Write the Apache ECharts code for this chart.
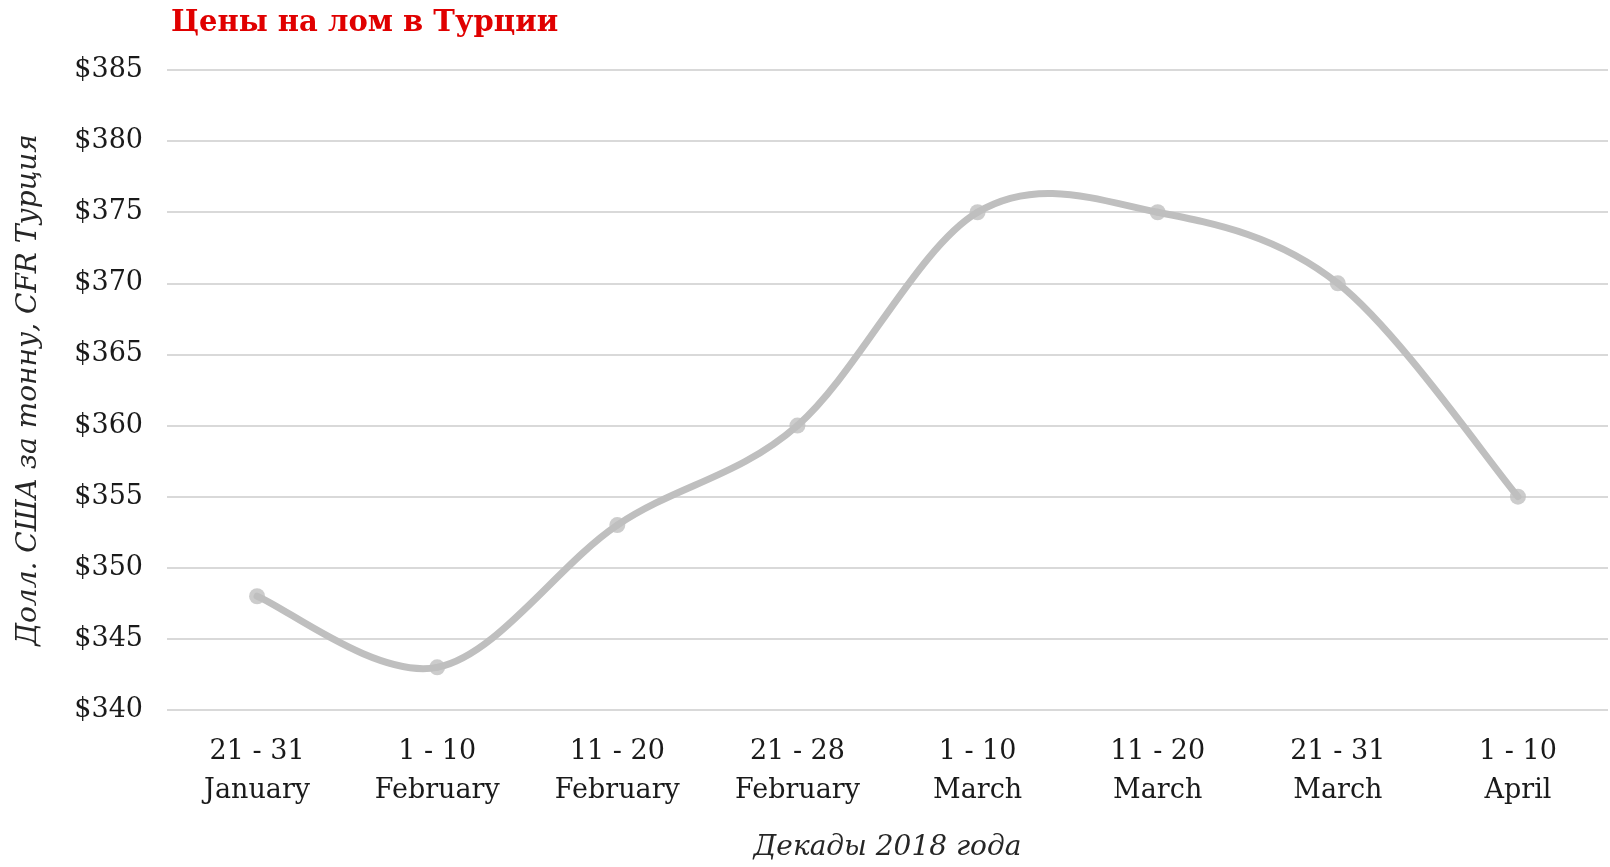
<!DOCTYPE html>
<html>
<head>
<meta charset="utf-8">
<script src="https://cdn.jsdelivr.net/npm/echarts@6/dist/echarts.min.js"></script>
<style>
  html, body { margin: 0; padding: 0; background: #fff; }
  #chart { width: 1610px; height: 867px; }
</style>
</head>
<body>
<div id="chart"></div>
<script>
// декады и цены
const periods = ['21 - 31\nJanuary', '1 - 10\nFebruary', '11 - 20\nFebruary', '21 - 28\nFebruary',
  '1 - 10\nMarch', '11 - 20\nMarch', '21 - 31\nMarch', '1 - 10\nApril'];
const prices = [348, 343, 353, 360, 375, 375, 370, 355];

const serif = "Georgia, 'DejaVu Serif', serif";
const lineColor = '#bfbfbf';

const chart = echarts.init(document.getElementById('chart'));

// сглаживание как в Excel (Catmull-Rom -> Bezier), точки берутся через api.coord
function renderSegment(params, api) {
  const i = api.value(0);
  if (i >= prices.length - 1) return null;
  const pt = k => {
    const kk = Math.max(0, Math.min(prices.length - 1, k));
    return api.coord([kk, prices[kk]]);
  };
  const p0 = pt(i - 1), p1 = pt(i), p2 = pt(i + 1), p3 = pt(i + 2);
  const t = 1 / 6;
  return {
    type: 'bezierCurve',
    shape: {
      x1: p1[0], y1: p1[1],
      x2: p2[0], y2: p2[1],
      cpx1: p1[0] + (p2[0] - p0[0]) * t, cpy1: p1[1] + (p2[1] - p0[1]) * t,
      cpx2: p2[0] - (p3[0] - p1[0]) * t, cpy2: p2[1] - (p3[1] - p1[1]) * t
    },
    style: { stroke: lineColor, lineWidth: 7, fill: null, lineCap: 'round' }
  };
}

const option = {
  animation: false,
  title: {
    text: 'Цены на лом в Турции',
    left: 166,
    top: 4,
    textStyle: { color: '#e00000', fontFamily: serif, fontWeight: 'bold', fontSize: 29 }
  },
  grid: { left: 167, right: 2, top: 70, bottom: 149 },
  xAxis: {
    type: 'category',
    data: periods,
    name: 'Декады 2018 года',
    nameLocation: 'middle',
    nameGap: 124,
    nameTextStyle: { fontFamily: serif, fontStyle: 'italic', fontSize: 28, color: '#262626' },
    axisLine: { show: false },
    axisTick: { show: false },
    axisLabel: { fontFamily: serif, fontSize: 27, color: '#1a1a1a', lineHeight: 39, margin: 22 }
  },
  yAxis: {
    type: 'value',
    min: 340,
    max: 385,
    interval: 5,
    name: 'Долл. США за тонну, CFR Турция',
    nameLocation: 'middle',
    nameGap: 124,
    nameTextStyle: { fontFamily: serif, fontStyle: 'italic', fontSize: 28, color: '#262626' },
    axisLabel: {
      fontFamily: serif, fontSize: 27, color: '#1a1a1a', margin: 24,
      formatter: v => '$' + v
    },
    splitLine: { lineStyle: { color: '#d9d9d9', width: 2 } }
  },
  series: [
    {
      type: 'custom',
      renderItem: renderSegment,
      data: prices.map((v, i) => [i, v]),
      z: 2
    },
    {
      type: 'scatter',
      data: prices,
      symbol: 'circle',
      symbolSize: 16,
      itemStyle: { color: lineColor },
      z: 3
    }
  ]
};

chart.setOption(option);
</script>
</body>
</html>
